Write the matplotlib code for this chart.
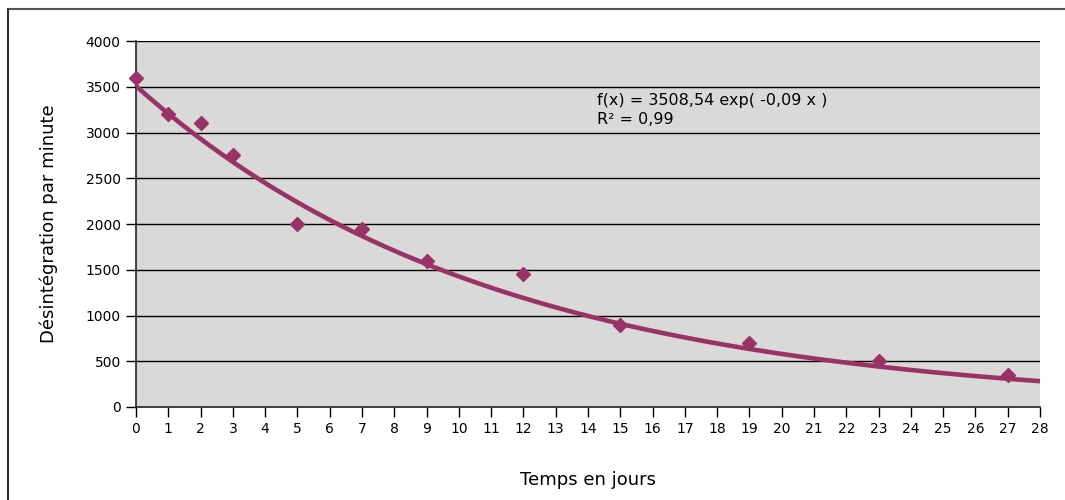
import numpy as np
import matplotlib
matplotlib.use("Agg")
import matplotlib.pyplot as plt
from matplotlib.lines import Line2D

plt.rcParams['font.family'] = ['DejaVu Sans']

days = [0, 1, 2, 3, 5, 7, 9, 12, 15, 19, 23, 27]
dpm = [3600, 3200, 3100, 2750, 2000, 1950, 1600, 1450, 900, 700, 500, 350]
fit_a = 3508.54
fit_k = -0.09
x_ticks = list(range(0, 29))
y_ticks = list(range(0, 4001, 500))
eq_lines = ['f(x) = 3508,54 exp( -0,09 x )', 'R² = 0,99']

color = '#993366'
W, H = 1065, 500

fig = plt.figure(figsize=(W/100, H/100), dpi=100)
ax = fig.add_axes([136/W, 93/H, (1040-136)/W, (407-41)/H])
ax.set_facecolor('#d9d9d9')

for yv in y_ticks[1:]:
    ax.axhline(yv, color='black', lw=1.0, zorder=1)

xs = np.linspace(0, 28, 300)
ax.plot(xs, fit_a*np.exp(fit_k*xs), color=color, lw=3.3, zorder=3, solid_capstyle='butt')
ax.plot(days, dpm, linestyle='none', marker='D', markersize=7.5, color=color, zorder=4, clip_on=False)

ax.set_xlim(0, 28)
ax.set_ylim(0, 4000)
ax.set_xticks(x_ticks)
ax.set_yticks(y_ticks)
ax.tick_params(axis='both', direction='out', length=7, width=1, labelsize=10, colors='black', pad=4)
for s in ['top', 'right']:
    ax.spines[s].set_visible(False)
for s in ['left', 'bottom']:
    ax.spines[s].set_linewidth(1.2)
    ax.spines[s].set_color('#222222')

ax.set_xlabel('Temps en jours', fontsize=13, labelpad=25)
ax.set_ylabel('Désintégration par minute', fontsize=13, labelpad=20)

fig.text(597/W, 1-100/H, eq_lines[0], fontsize=11.5, va='center', ha='left')
fig.text(597/W, 1-120/H, eq_lines[1], fontsize=11.5, va='center', ha='left')

# outer border
fig.add_artist(Line2D([8/W, 1.0], [1-9/H, 1-9/H], transform=fig.transFigure, color='#555555', lw=1.5))
fig.add_artist(Line2D([8/W, 8/W], [0, 1-9/H], transform=fig.transFigure, color='#333333', lw=1.5))

fig.savefig('out.png', dpi=100)
